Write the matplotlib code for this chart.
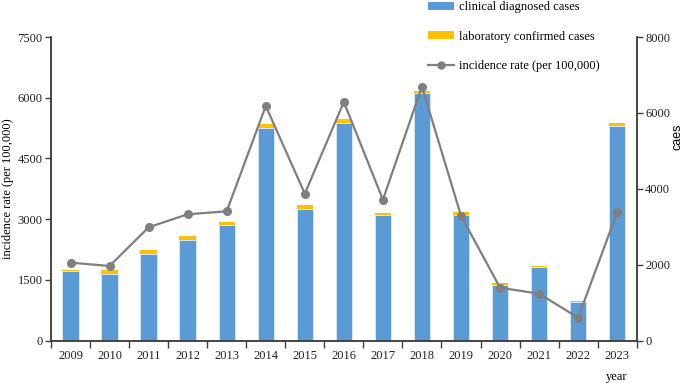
import numpy as np
import matplotlib
matplotlib.use('Agg')
from matplotlib import pyplot as plt
from matplotlib.patches import Patch
from matplotlib.lines import Line2D

years = ['2009', '2010', '2011', '2012', '2013', '2014', '2015', '2016',
         '2017', '2018', '2019', '2020', '2021', '2022', '2023']
# cases (right axis)
clinical = [1836, 1765, 2292, 2660, 3048, 5610, 3469, 5742,
            3303, 6524, 3319, 1475, 1941, 1019, 5663]
laboratory = [25, 90, 90, 97, 79, 105, 105, 97,
              61, 53, 63, 37, 34, 18, 71]
# incidence rate (left axis)
rate = [1927, 1845, 2801, 3122, 3196, 5797, 3631, 5896,
        3483, 6274, 3088, 1309, 1161, 568, 3171]

plt.rcParams['font.family'] = ['Liberation Serif', 'DejaVu Serif']
plt.rcParams['font.size'] = 9

BLUE = '#5B9BD5'
YELLOW = '#FFC000'
GRAY = '#7F7F7F'
DARK = '#404040'

fig = plt.figure(figsize=(6.85, 3.83), dpi=100)
ax = fig.add_axes([51 / 685, 1 - 340.7 / 383, (636.7 - 51) / 685, (340.7 - 37) / 383])
ax2 = ax.twinx()

x = np.arange(len(years))
ax2.bar(x, clinical, width=0.42, color=BLUE, edgecolor='#DDEBF7', linewidth=0.6)
ax2.bar(x, laboratory, width=0.42, bottom=clinical, color=YELLOW, edgecolor='none')
ax.plot(x, rate, color=GRAY, lw=1.6, marker='o', ms=5.5)

# line drawn over the bars
ax.set_zorder(ax2.get_zorder() + 1)
ax.patch.set_visible(False)

ax.set_xlim(-0.5, len(years) - 0.5)
ax.set_ylim(0, 7500)
ax.set_yticks(np.arange(0, 7501, 1500))
ax2.set_ylim(0, 8000)
ax2.set_yticks(np.arange(0, 8001, 2000))

# category ticks between bars, labels at centres
ax.set_xticks(np.arange(-0.5, len(years), 1.0))
ax.set_xticklabels([])
ax.set_xticks(x, minor=True)
ax.set_xticklabels(years, minor=True)
ax.tick_params(axis='x', which='minor', length=0, pad=7)
ax.tick_params(axis='x', which='major', length=5, direction='out', width=1, color=DARK)

for a in (ax, ax2):
    a.spines['top'].set_visible(False)
    for s in a.spines.values():
        s.set_color(DARK)
        s.set_linewidth(1.1)
    a.tick_params(axis='y', length=4, direction='out', width=1, color=DARK,
                  labelcolor='#222222', pad=2)
ax.tick_params(axis='x', which='minor', labelcolor='#222222')

ax.set_ylabel('incidence rate (per 100,000)')
ax.yaxis.set_label_coords(-0.064, 0.5)
ax2.set_ylabel('caes', family='Liberation Sans', fontsize=9, rotation=90)
ax2.yaxis.set_label_coords(1.06, 0.67)
fig.text(617 / 685, 1 - 377 / 383, 'year', ha='center', va='center')

handles = [Patch(facecolor=BLUE, edgecolor='none'),
           Patch(facecolor=YELLOW, edgecolor='none'),
           Line2D([], [], color=GRAY, lw=1.6, marker='o', ms=5)]
labels = ['clinical diagnosed cases', 'laboratory confirmed cases', 'incidence rate (per 100,000)']
fig.legend(handles, labels, loc='upper left', bbox_to_anchor=(428 / 685, 0.997),
           frameon=False, handlelength=2.1, handleheight=0.6, handletextpad=0.35,
           labelspacing=1.4, borderaxespad=0, borderpad=0)

fig.savefig('out.png', dpi=100)
